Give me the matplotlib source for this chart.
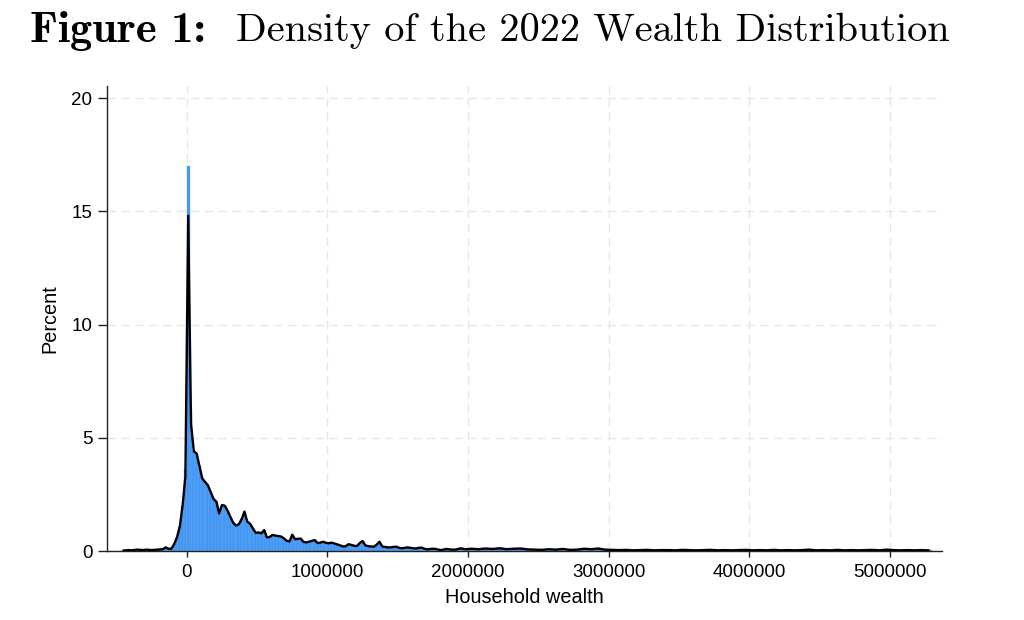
import numpy as np
import matplotlib
matplotlib.use("Agg")
import matplotlib.pyplot as plt

# histogram of household wealth, percent per bin
core_start = -460000
core_width = 20000
core_pct = [
    0.02, 0.03, 0.04, 0.03, 0.05, 0.06, 0.05, 0.04, 0.06, 0.05,
    0.04, 0.05, 0.06, 0.07, 0.08,
    0.16, 0.10, 0.10, 0.30, 0.60, 1.07, 2.00, 3.60,
    17.0, 6.30, 4.40, 4.30, 3.75, 3.20, 3.05, 2.90, 2.60, 2.30,
    2.18, 1.66, 2.03, 2.00, 1.78, 1.50, 1.25, 1.12, 1.18, 1.40,
    1.74, 1.30, 1.20, 1.00, 0.80, 0.82, 0.78, 0.92, 0.60, 0.62,
    0.71, 0.68, 0.66, 0.64, 0.56, 0.45, 0.42, 0.72, 0.52, 0.54,
    0.55, 0.40, 0.38, 0.41, 0.45, 0.48, 0.35, 0.37, 0.41, 0.36,
    0.34, 0.37, 0.33, 0.29, 0.25, 0.20, 0.21, 0.30, 0.27, 0.23,
    0.22, 0.35, 0.44, 0.25, 0.21, 0.20, 0.19, 0.28, 0.41, 0.20,
    0.18, 0.16, 0.16, 0.18, 0.19, 0.14, 0.12, 0.14, 0.16, 0.14,
    0.12, 0.11, 0.14, 0.15, 0.10, 0.07, 0.09, 0.10, 0.09, 0.06,
    0.04, 0.07, 0.09, 0.07, 0.06, 0.06, 0.09, 0.12, 0.09, 0.08,
]
# thin upper tail, coarser bins
tail_start = 2000000
tail_width = 50000
tail_pct = [
    0.10, 0.08, 0.11, 0.09, 0.12, 0.08, 0.10, 0.11, 0.07, 0.06,
    0.05, 0.08, 0.06, 0.09, 0.05, 0.06, 0.10, 0.08, 0.11, 0.06,
    0.05, 0.04, 0.05, 0.03, 0.04, 0.05, 0.03, 0.04, 0.04, 0.03,
    0.05, 0.04, 0.03, 0.04, 0.05, 0.03, 0.04, 0.03, 0.04, 0.05,
    0.03, 0.04, 0.03, 0.05, 0.03, 0.04, 0.03, 0.04, 0.06, 0.03,
    0.04, 0.03, 0.05, 0.03, 0.04, 0.03, 0.04, 0.05, 0.03, 0.06,
    0.04, 0.03, 0.04, 0.03, 0.04, 0.03,
]
# density line follows the bars except around the spike
peak_line = {22: 3.3, 23: 14.8, 24: 5.6}

xticks = [0, 1000000, 2000000, 3000000, 4000000, 5000000]
yticks = [0, 5, 10, 15, 20]

core_left = core_start + core_width * np.arange(len(core_pct))
tail_left = tail_start + tail_width * np.arange(len(tail_pct))

line_x = np.concatenate([core_left + core_width / 2, tail_left + tail_width / 2])
line_y = np.array(core_pct + tail_pct, dtype=float)
for i, v in peak_line.items():
    line_y[i] = v

fig = plt.figure(figsize=(10.24, 6.2), dpi=100)
ax = fig.add_axes([107 / 1024, 1 - 551 / 620, (942 - 107) / 1024, (551 - 86) / 620])

blue = "#4196f3"
ax.bar(core_left, core_pct, width=core_width, align="edge", color=blue,
       edgecolor="#6eaef6", linewidth=0.3, zorder=2)
ax.bar(tail_left, tail_pct, width=tail_width, align="edge", color=blue,
       edgecolor="#6eaef6", linewidth=0.3, zorder=2)
ax.plot(line_x, line_y, color="black", lw=1.7, zorder=3)

ax.set_xlim(-567600, 5371000)
ax.set_ylim(0, 20.53)
ax.set_xticks(xticks)
ax.set_xticklabels([str(t) for t in xticks])
ax.set_yticks(yticks)

for s in ["top", "right"]:
    ax.spines[s].set_visible(False)
for s in ["left", "bottom"]:
    ax.spines[s].set_color("#222222")
    ax.spines[s].set_linewidth(1.0)

ax.grid(True, color="#e6e6e6", linestyle=(0, (6, 4)), linewidth=1.0, zorder=0)
ax.set_axisbelow(True)

tfont = "Liberation Sans"
ax.tick_params(axis="x", length=4.5, width=1, labelsize=13.5, colors="#222222", pad=5)
ax.tick_params(axis="y", length=6.5, width=1, labelsize=13.5, colors="#222222", pad=4)
for lab in ax.get_xticklabels() + ax.get_yticklabels():
    lab.set_fontfamily(tfont)
    lab.set_color("black")

ax.set_xlabel("Household wealth", fontsize=14.3, family=tfont, labelpad=5)
ax.set_ylabel("Percent", fontsize=14.3, family=tfont, labelpad=9)

# title: bold "Figure 1:" then roman text, Computer Modern look
t1 = fig.text(30 / 1024, 1 - 31 / 620, "Figure 1:", family="cmb10", fontsize=32,
              va="center", ha="left")
fig.canvas.draw()
bb = t1.get_window_extent()
fig.text(max(bb.x1 + 18, 236) / 1024, 1 - 31 / 620, "Density of the 2022 Wealth Distribution",
         family="cmr10", fontsize=29, va="center", ha="left")

fig.savefig("out.png", dpi=100)
